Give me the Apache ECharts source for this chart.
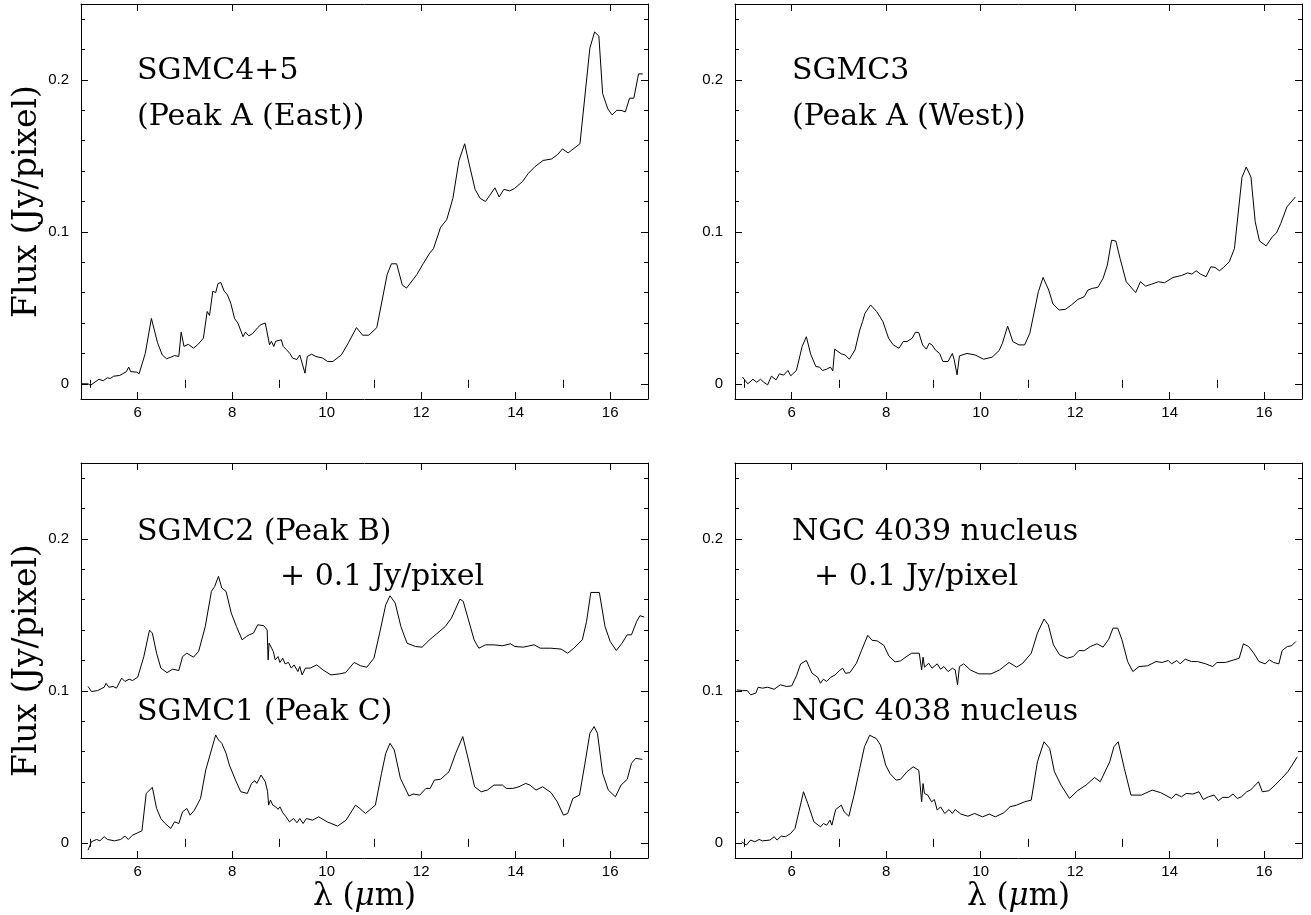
<!DOCTYPE html>
<html>
<head>
<meta charset="utf-8">
<title>Mid-IR spectra of the Antennae</title>
<script src="https://cdn.jsdelivr.net/npm/echarts@6/dist/echarts.min.js"></script>
<style>
  html, body { margin: 0; padding: 0; background: #fff; }
  #chart { width: 1311px; height: 915px; }
</style>
</head>
<body>
<div id="chart"></div>
<script>
// [wavelength (um), flux (Jy/pixel)]
const sgmc45 = [
  [4.80,0.000],[4.95,0.000],[5.00,-0.001],[5.18,0.003],[5.27,0.002],[5.36,0.004],[5.42,0.0035],[5.49,0.005],[5.62,0.0055],
  [5.76,0.008],[5.81,0.011],[5.85,0.008],[5.98,0.0077],[6.03,0.0066],[6.16,0.020],[6.29,0.043],[6.42,0.027],
  [6.52,0.019],[6.61,0.0165],[6.70,0.0175],[6.78,0.0186],[6.87,0.018],[6.92,0.034],[6.98,0.0246],[7.07,0.026],
  [7.18,0.0235],[7.27,0.0257],[7.39,0.030],[7.47,0.0476],[7.52,0.045],[7.59,0.061],[7.65,0.060],[7.70,0.066],
  [7.76,0.0667],[7.83,0.061],[7.90,0.0585],[7.97,0.053],[8.05,0.043],[8.12,0.040],[8.23,0.031],[8.28,0.034],
  [8.35,0.0316],[8.43,0.033],[8.54,0.037],[8.61,0.039],[8.65,0.038],[8.70,0.040],[8.79,0.0257],[8.83,0.028],
  [8.88,0.0246],[8.92,0.028],[8.96,0.027],[9.04,0.029],[9.08,0.0246],[9.15,0.0224],[9.22,0.020],[9.28,0.0169],
  [9.37,0.016],[9.43,0.019],[9.48,0.0136],[9.54,0.007],[9.59,0.018],[9.68,0.0195],[9.77,0.018],[9.91,0.017],
  [10.02,0.0147],[10.13,0.0147],[10.31,0.019],[10.46,0.027],[10.63,0.037],[10.76,0.032],[10.89,0.032],[11.06,0.037],
  [11.28,0.072],[11.37,0.079],[11.48,0.079],[11.60,0.065],[11.69,0.063],[11.91,0.072],[12.04,0.079],[12.18,0.086],
  [12.26,0.089],[12.41,0.103],[12.54,0.108],[12.67,0.122],[12.80,0.147],[12.92,0.158],[13.02,0.144],[13.14,0.128],
  [13.25,0.122],[13.36,0.120],[13.45,0.124],[13.56,0.129],[13.65,0.123],[13.75,0.128],[13.87,0.127],[13.97,0.1285],
  [14.14,0.133],[14.27,0.1386],[14.41,0.143],[14.58,0.147],[14.76,0.148],[14.89,0.151],[14.99,0.1546],[15.11,0.152],
  [15.36,0.158],[15.57,0.221],[15.67,0.2316],[15.76,0.2289],[15.84,0.191],[15.95,0.181],[16.04,0.177],[16.14,0.180],
  [16.23,0.180],[16.32,0.179],[16.41,0.188],[16.50,0.188],[16.60,0.204],[16.69,0.204]
];

const sgmc3 = [
  [4.96,0.0044],[5.07,0],[5.18,0.003],[5.26,0.001],[5.34,0.003],[5.41,0.001],[5.49,-0.0007],[5.57,0.005],
  [5.67,0.0026],[5.74,0.0066],[5.83,0.0057],[5.92,0.0088],[5.98,0.0053],[6.10,0.0088],[6.22,0.0245],[6.31,0.031],
  [6.40,0.0197],[6.51,0.0114],[6.59,0.011],[6.65,0.0088],[6.74,0.0096],[6.82,0.011],[6.87,0.0085],[6.91,0.0228],
  [7.05,0.0197],[7.13,0.019],[7.22,0.0162],[7.34,0.0223],[7.44,0.0354],[7.50,0.041],[7.55,0.0464],[7.67,0.0519],
  [7.80,0.0475],[7.93,0.041],[8.05,0.030],[8.15,0.0256],[8.27,0.0234],[8.36,0.0278],[8.44,0.0278],[8.55,0.030],
  [8.62,0.034],[8.69,0.0337],[8.77,0.0256],[8.85,0.0228],[8.91,0.0267],[8.97,0.0256],[9.04,0.0223],[9.13,0.020],
  [9.20,0.0147],[9.31,0.0147],[9.40,0.020],[9.44,0.0158],[9.50,0.0059],[9.55,0.0184],[9.71,0.020],[9.88,0.019],
  [10.06,0.0162],[10.24,0.0175],[10.39,0.0219],[10.46,0.0267],[10.57,0.038],[10.68,0.0278],[10.81,0.0256],[10.93,0.0256],
  [11.04,0.0333],[11.22,0.0606],[11.32,0.070],[11.44,0.0617],[11.53,0.0525],[11.66,0.0486],[11.79,0.049],[11.92,0.0519],
  [12.06,0.0556],[12.19,0.0573],[12.27,0.0617],[12.36,0.0628],[12.48,0.0635],[12.59,0.0694],[12.68,0.0781],[12.77,0.0945],
  [12.86,0.094],[12.95,0.0825],[13.08,0.0672],[13.28,0.060],[13.38,0.0672],[13.49,0.0643],[13.62,0.0656],[13.76,0.0672],
  [13.89,0.0665],[14.07,0.070],[14.25,0.0713],[14.38,0.073],[14.47,0.0722],[14.56,0.0744],[14.65,0.0722],[14.77,0.0705],
  [14.87,0.077],[14.96,0.0766],[15.05,0.0744],[15.14,0.0766],[15.26,0.0803],[15.37,0.089],[15.53,0.136],[15.62,0.1427],
  [15.72,0.136],[15.81,0.1066],[15.90,0.094],[16.04,0.0908],[16.17,0.0967],[16.26,0.0993],[16.35,0.1055],[16.48,0.1164],
  [16.66,0.123]
];

// SGMC2 as plotted (shifted up by 0.1 Jy/pixel)
const sgmc2Shifted = [
  [4.95,0.1029],[5.02,0.0996],[5.15,0.1002],[5.29,0.1024],[5.33,0.105],[5.39,0.1024],[5.48,0.1029],[5.55,0.1018],
  [5.66,0.1084],[5.73,0.1062],[5.82,0.1077],[5.89,0.1068],[6.00,0.109],[6.13,0.1226],[6.25,0.140],[6.31,0.138],
  [6.40,0.1248],[6.49,0.115],[6.62,0.112],[6.74,0.1143],[6.87,0.1134],[6.95,0.1226],[7.04,0.1248],[7.18,0.1222],
  [7.29,0.126],[7.43,0.1424],[7.56,0.1655],[7.63,0.1688],[7.71,0.1754],[7.78,0.1677],[7.87,0.1655],[7.98,0.1512],
  [8.09,0.1424],[8.21,0.1336],[8.30,0.1358],[8.36,0.1369],[8.45,0.138],[8.54,0.1435],[8.67,0.1429],[8.74,0.140],
  [8.76,0.1204],[8.78,0.1314],[8.87,0.126],[8.91,0.1204],[8.97,0.1226],[9.01,0.1187],[9.07,0.1215],[9.12,0.1178],
  [9.19,0.1187],[9.25,0.115],[9.31,0.1171],[9.39,0.1127],[9.43,0.116],[9.48,0.1105],[9.55,0.115],[9.65,0.115],
  [9.79,0.1171],[9.92,0.1138],[10.09,0.1105],[10.27,0.1112],[10.40,0.112],[10.58,0.1187],[10.72,0.1165],[10.85,0.1156],
  [11.00,0.1215],[11.12,0.138],[11.25,0.1567],[11.34,0.1626],[11.45,0.1578],[11.57,0.1424],[11.70,0.1314],[11.88,0.1292],
  [12.02,0.1288],[12.19,0.134],[12.33,0.1376],[12.51,0.1424],[12.64,0.1479],[12.82,0.1604],[12.89,0.1589],[13.00,0.1468],
  [13.12,0.1336],[13.22,0.1281],[13.36,0.1303],[13.54,0.1303],[13.72,0.1297],[13.89,0.131],[13.98,0.1292],[14.16,0.1288],
  [14.39,0.1303],[14.52,0.1281],[14.74,0.1281],[14.96,0.1275],[15.10,0.1248],[15.23,0.1281],[15.41,0.1336],[15.50,0.1457],
  [15.59,0.1648],[15.77,0.1648],[15.89,0.1424],[16.00,0.1325],[16.13,0.1266],[16.25,0.1314],[16.36,0.1369],[16.45,0.1369],
  [16.56,0.1457],[16.63,0.1495],[16.72,0.1486]
];

const sgmc1 = [
  [4.95,-0.0048],[5.02,0.0007],[5.13,0.0022],[5.20,0.0013],[5.29,0.004],[5.36,0.0022],[5.51,0.0013],[5.64,0.0022],
  [5.73,0.0044],[5.80,0.0022],[5.89,0.005],[6.00,0.0066],[6.09,0.0079],[6.18,0.0325],[6.31,0.0365],[6.40,0.0226],
  [6.49,0.016],[6.58,0.0127],[6.70,0.0095],[6.78,0.0138],[6.87,0.0127],[6.95,0.0204],[7.04,0.0226],[7.11,0.0182],
  [7.20,0.0215],[7.33,0.0292],[7.44,0.0479],[7.56,0.0611],[7.65,0.071],[7.71,0.0677],[7.78,0.0655],[7.87,0.0589],
  [7.94,0.0512],[8.07,0.0413],[8.18,0.0336],[8.32,0.0325],[8.41,0.0391],[8.48,0.0409],[8.52,0.0391],[8.61,0.0446],
  [8.70,0.0402],[8.75,0.0336],[8.77,0.0248],[8.81,0.0281],[8.86,0.0248],[8.92,0.0237],[8.97,0.022],[9.01,0.0237],
  [9.07,0.0198],[9.14,0.0171],[9.21,0.0138],[9.30,0.016],[9.37,0.0132],[9.43,0.016],[9.50,0.0127],[9.57,0.016],
  [9.70,0.0149],[9.83,0.0171],[10.01,0.0138],[10.23,0.011],[10.41,0.0149],[10.61,0.0248],[10.70,0.0226],[10.82,0.0193],
  [11.03,0.0248],[11.16,0.0457],[11.25,0.0589],[11.34,0.0655],[11.43,0.0611],[11.56,0.0424],[11.74,0.0308],[11.83,0.0321],
  [11.97,0.0314],[12.10,0.0358],[12.19,0.0358],[12.28,0.0413],[12.41,0.0418],[12.59,0.0468],[12.73,0.0589],[12.88,0.0699],
  [13.00,0.0545],[13.13,0.0369],[13.27,0.0336],[13.40,0.0347],[13.54,0.038],[13.72,0.038],[13.80,0.0358],[13.94,0.0358],
  [14.07,0.0369],[14.21,0.0391],[14.30,0.038],[14.43,0.0347],[14.57,0.0369],[14.75,0.033],[14.88,0.027],[15.01,0.0182],
  [15.10,0.0193],[15.21,0.0292],[15.35,0.0314],[15.46,0.0512],[15.57,0.0721],[15.66,0.0765],[15.73,0.0721],[15.84,0.0457],
  [15.96,0.0347],[16.11,0.0303],[16.23,0.038],[16.36,0.0418],[16.45,0.0523],[16.54,0.0556],[16.68,0.0549]
];

// NGC 4039 nucleus as plotted (shifted up by 0.1 Jy/pixel)
const ngc4039Shifted = [
  [4.84,0.1007],[4.96,0.1002],[5.06,0.1002],[5.13,0.0974],[5.24,0.0985],[5.29,0.1024],[5.38,0.1018],[5.49,0.1024],
  [5.63,0.1011],[5.76,0.104],[5.89,0.1029],[6.00,0.1033],[6.10,0.1099],[6.19,0.1178],[6.31,0.120],[6.43,0.1116],
  [6.55,0.109],[6.61,0.105],[6.67,0.1077],[6.74,0.1062],[6.83,0.109],[6.92,0.1105],[7.01,0.1134],[7.08,0.1149],
  [7.14,0.1116],[7.23,0.112],[7.37,0.1182],[7.48,0.1268],[7.61,0.1366],[7.70,0.1333],[7.81,0.1329],[7.95,0.130],
  [8.06,0.1228],[8.19,0.1191],[8.30,0.1197],[8.44,0.1228],[8.54,0.1248],[8.70,0.1248],[8.75,0.1138],[8.78,0.1222],
  [8.81,0.1156],[8.90,0.1182],[8.97,0.1149],[9.08,0.1178],[9.15,0.1143],[9.22,0.116],[9.31,0.1127],[9.40,0.1149],
  [9.46,0.1138],[9.51,0.104],[9.55,0.116],[9.64,0.1178],[9.78,0.1138],[9.96,0.1112],[10.22,0.1112],[10.40,0.1138],
  [10.60,0.1187],[10.76,0.1156],[10.89,0.1182],[11.07,0.1248],[11.20,0.138],[11.34,0.1473],[11.43,0.1435],[11.54,0.1303],
  [11.67,0.1237],[11.83,0.1215],[11.96,0.1226],[12.08,0.1266],[12.19,0.1264],[12.32,0.1292],[12.46,0.131],[12.59,0.1288],
  [12.71,0.134],[12.80,0.1413],[12.90,0.1413],[12.99,0.1336],[13.11,0.1193],[13.22,0.1127],[13.35,0.116],[13.53,0.1165],
  [13.71,0.1193],[13.84,0.1187],[13.97,0.120],[14.04,0.1178],[14.15,0.120],[14.22,0.1178],[14.33,0.1209],[14.46,0.1193],
  [14.59,0.1193],[14.76,0.1178],[14.91,0.116],[15.00,0.1187],[15.18,0.1187],[15.36,0.1204],[15.47,0.1215],[15.56,0.131],
  [15.67,0.1292],[15.78,0.1248],[15.89,0.1193],[16.02,0.1178],[16.11,0.1204],[16.20,0.1187],[16.31,0.1178],[16.38,0.1266],
  [16.49,0.1292],[16.58,0.1297],[16.67,0.1325]
];

const ngc4038 = [
  [4.94,0.0007],[5.04,-0.0015],[5.13,0.0018],[5.22,0.0007],[5.31,0.0022],[5.38,0.0013],[5.54,0.0018],[5.63,0.004],
  [5.69,0.0018],[5.78,0.0044],[5.87,0.004],[5.98,0.0062],[6.07,0.0095],[6.16,0.0215],[6.25,0.0336],[6.34,0.0259],
  [6.47,0.0138],[6.61,0.0105],[6.67,0.0127],[6.74,0.0116],[6.81,0.0149],[6.85,0.0116],[6.93,0.0219],[7.05,0.0248],
  [7.11,0.0204],[7.21,0.0175],[7.32,0.0314],[7.44,0.0489],[7.54,0.0632],[7.65,0.0708],[7.79,0.0686],[7.88,0.0643],
  [7.99,0.0511],[8.08,0.0456],[8.21,0.0413],[8.30,0.0417],[8.44,0.0468],[8.57,0.050],[8.69,0.0478],[8.75,0.027],
  [8.78,0.039],[8.81,0.0325],[8.88,0.0314],[8.96,0.027],[9.02,0.0285],[9.08,0.0215],[9.15,0.0237],[9.24,0.0193],
  [9.33,0.0219],[9.40,0.0193],[9.46,0.0219],[9.58,0.0189],[9.73,0.0175],[9.87,0.0193],[10.04,0.0171],[10.18,0.0189],
  [10.31,0.0171],[10.49,0.0198],[10.62,0.0237],[10.76,0.0248],[10.93,0.027],[11.07,0.0281],[11.20,0.0533],[11.34,0.0665],
  [11.46,0.0621],[11.56,0.0468],[11.70,0.038],[11.88,0.0292],[12.05,0.0343],[12.23,0.038],[12.41,0.043],[12.53,0.0402],
  [12.73,0.0533],[12.82,0.0632],[12.91,0.0665],[13.04,0.0489],[13.18,0.0314],[13.40,0.0314],[13.63,0.0347],[13.81,0.033],
  [14.04,0.0292],[14.13,0.0321],[14.25,0.0303],[14.35,0.0325],[14.49,0.0321],[14.62,0.0336],[14.71,0.0285],[14.82,0.0303],
  [14.94,0.0314],[15.03,0.0277],[15.12,0.0299],[15.25,0.0299],[15.34,0.0321],[15.43,0.0292],[15.52,0.0303],[15.63,0.0336],
  [15.71,0.0347],[15.88,0.0402],[15.96,0.0336],[16.10,0.0343],[16.23,0.038],[16.37,0.0424],[16.50,0.0468],[16.59,0.0511],
  [16.70,0.0566]
];

const xRange = [4.8, 16.8];
const yRange = [-0.01, 0.25];
const xMajor = [6, 8, 10, 12, 14, 16];
const xMinor = [5, 7, 9, 11, 13, 15];
const yMajor = [0, 0.1, 0.2];
const yMinor = [0.02, 0.04, 0.06, 0.08, 0.12, 0.14, 0.16, 0.18, 0.22, 0.24];

const textTL = ['SGMC4+5', '(Peak A (East))'];
const textTR = ['SGMC3', '(Peak A (West))'];
const textBL = ['SGMC2 (Peak B)', '+ 0.1 Jy/pixel', 'SGMC1 (Peak C)'];
const textBR = ['NGC 4039 nucleus', '+ 0.1 Jy/pixel', 'NGC 4038 nucleus'];

// layout
const W = 567, H = 395;
const panels = [
  {left: 81,  top: 4,   curves: [sgmc45], yTitle: true,  xTitle: false,
   notes: [[textTL[0], 137, 71], [textTL[1], 137, 117]]},
  {left: 735, top: 4,   curves: [sgmc3], yTitle: false, xTitle: false,
   notes: [[textTR[0], 792, 71], [textTR[1], 792, 117]]},
  {left: 81,  top: 463, curves: [sgmc2Shifted, sgmc1], yTitle: true, xTitle: true,
   notes: [[textBL[0], 137, 532], [textBL[1], 280, 577], [textBL[2], 137, 712]]},
  {left: 735, top: 463, curves: [ngc4039Shifted, ngc4038], yTitle: false, xTitle: true,
   notes: [[textBR[0], 792, 532], [textBR[1], 814, 577], [textBR[2], 792, 712]]}
];

const black = '#000';
const serif = 'DejaVu Serif';
const labelFont = {fontFamily: 'Liberation Sans', fontSize: 15, color: black};

function tickAxis(base, values, len, extra) {
  return Object.assign({}, base, {
    axisTick: {show: true, inside: true, length: len, customValues: values,
      lineStyle: {color: black, width: 1}}
  }, extra || {});
}

function xAxes(gi, p) {
  const base = {
    type: 'value', gridIndex: gi, min: xRange[0], max: xRange[1],
    splitLine: {show: false}, axisLine: {show: false}, axisLabel: {show: false}
  };
  const line = {show: true, onZero: false, lineStyle: {color: black, width: 1}};
  const main = tickAxis(base, xMajor, 7, {
    position: 'bottom', axisLine: line,
    axisLabel: Object.assign({show: true, margin: 6, customValues: xMajor}, labelFont)
  });
  if (p.xTitle) {
    main.name = 'λ ({i|μ}m)';
    main.nameLocation = 'middle';
    main.nameGap = 23;
    main.nameTextStyle = {fontFamily: serif, fontSize: 31, color: black,
      rich: {i: {fontFamily: serif, fontStyle: 'italic', fontSize: 31, color: black}}};
  }
  return [
    main,
    tickAxis(base, xMinor, 4, {position: 'bottom'}),
    tickAxis(base, xMajor, 7, {position: 'top', axisLine: line}),
    tickAxis(base, xMinor, 4, {position: 'top'})
  ];
}

function yAxes(gi, p) {
  const base = {
    type: 'value', gridIndex: gi, min: yRange[0], max: yRange[1],
    splitLine: {show: false}, axisLine: {show: false}, axisLabel: {show: false}
  };
  const line = {show: true, onZero: false, lineStyle: {color: black, width: 1}};
  const main = tickAxis(base, yMajor, 7, {
    position: 'left', axisLine: line,
    axisLabel: Object.assign({show: true, margin: 12, customValues: yMajor,
      formatter: v => (v === 0 ? '0' : String(v))}, labelFont)
  });
  if (p.yTitle) {
    main.name = 'Flux (Jy/pixel)';
    main.nameLocation = 'middle';
    main.nameRotate = 90;
    main.nameGap = 37;
    main.nameTextStyle = {fontFamily: serif, fontSize: 33, color: black};
  }
  return [
    main,
    tickAxis(base, yMinor, 4, {position: 'left'}),
    tickAxis(base, yMajor, 7, {position: 'right', axisLine: line}),
    tickAxis(base, yMinor, 4, {position: 'right'})
  ];
}

const grids = [], xs = [], ys = [], series = [], notes = [];
panels.forEach((p, gi) => {
  grids.push({left: p.left, top: p.top, width: W, height: H, containLabel: false});
  xs.push(...xAxes(gi, p));
  ys.push(...yAxes(gi, p));
  p.curves.forEach(c => {
    series.push({
      type: 'line', xAxisIndex: gi * 4, yAxisIndex: gi * 4, data: c,
      symbol: 'none', showSymbol: false, silent: true,
      lineStyle: {color: black, width: 1}
    });
  });
  p.notes.forEach(([t, x, y]) => {
    notes.push({type: 'text', x: x, y: y, silent: true,
      style: {text: t, fill: black, font: '30px "' + serif + '"', verticalAlign: 'middle'}});
  });
});

const chart = echarts.init(document.getElementById('chart'), null, {renderer: 'canvas'});
chart.setOption({
  animation: false,
  backgroundColor: '#fff',
  grid: grids,
  xAxis: xs,
  yAxis: ys,
  series: series,
  graphic: notes
});
</script>
</body>
</html>
